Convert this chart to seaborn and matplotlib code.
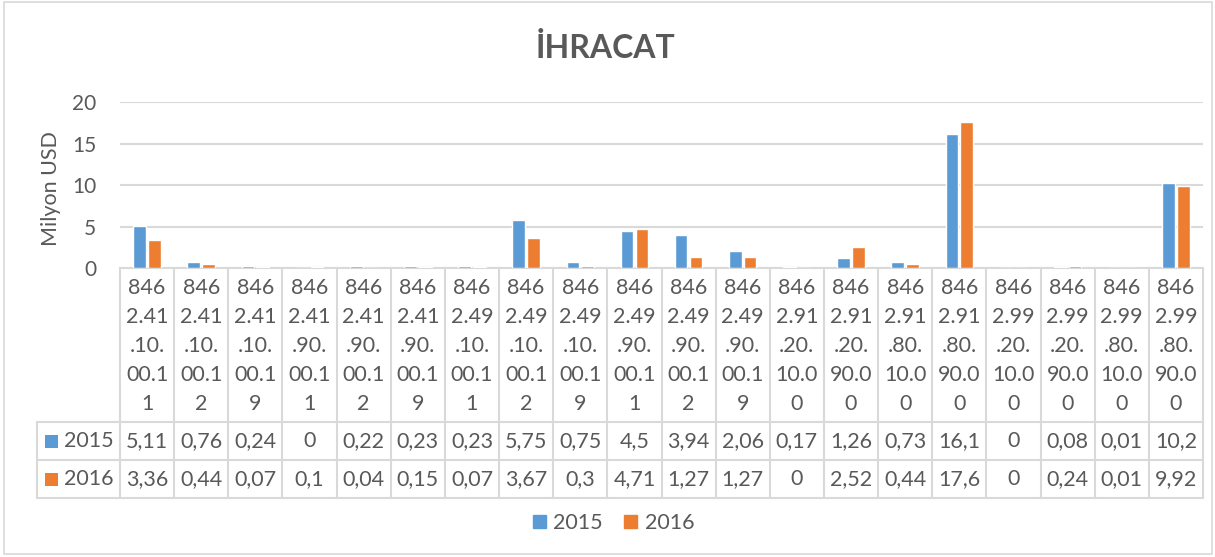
import pandas as pd
import seaborn as sns
import matplotlib.pyplot as plt
from matplotlib.lines import Line2D
from matplotlib.patches import Rectangle
from matplotlib.transforms import blended_transform_factory

codes = ['8462.41.10.00.11', '8462.41.10.00.12', '8462.41.10.00.19',
         '8462.41.90.00.11', '8462.41.90.00.12', '8462.41.90.00.19',
         '8462.49.10.00.11', '8462.49.10.00.12', '8462.49.10.00.19',
         '8462.49.90.00.11', '8462.49.90.00.12', '8462.49.90.00.19',
         '8462.91.20.10.00', '8462.91.20.90.00', '8462.91.80.10.00',
         '8462.91.80.90.00', '8462.99.20.10.00', '8462.99.20.90.00',
         '8462.99.80.10.00', '8462.99.80.90.00']
years = ['2015', '2016']
values_2015 = [5.11, 0.76, 0.24, 0, 0.22, 0.23, 0.23, 5.75, 0.75, 4.5,
               3.94, 2.06, 0.17, 1.26, 0.73, 16.1, 0, 0.08, 0.01, 10.2]
values_2016 = [3.36, 0.44, 0.07, 0.1, 0.04, 0.15, 0.07, 3.67, 0.3, 4.71,
               1.27, 1.27, 0, 2.52, 0.44, 17.6, 0, 0.24, 0.01, 9.92]
colors = ['#5B9BD5', '#ED7D31']

W, H = 1215, 557
GREY = '#595959'
LINE = '#D9D9D9'
FS = 15.5


def fy(y):
    return 1 - y / H


def fmt(v):
    return f'{v:g}'.replace('.', ',')


df = pd.DataFrame({
    'code': codes * 2,
    'year': ['2015'] * len(codes) + ['2016'] * len(codes),
    'value': values_2015 + values_2016,
})

sns.set_style('white')
plt.rcParams['font.family'] = ['Lato', 'DejaVu Sans']
plt.rcParams['text.color'] = GREY

fig = plt.figure(figsize=(W / 100, H / 100), dpi=100)
ax = fig.add_axes([120 / W, fy(268), (1203 - 120) / W, (268 - 102) / H])

sns.barplot(data=df, x='code', y='value', hue='year', palette=colors,
            width=0.55, gap=0.15, saturation=1, errorbar=None, ax=ax)

ax.set_ylim(0, 20)
ax.set_xlim(-0.5, len(codes) - 0.5)
ax.set_yticks([0, 5, 10, 15, 20])
ax.yaxis.grid(True, color=LINE, lw=1.5)
ax.set_axisbelow(True)
ax.tick_params(axis='y', length=0, pad=17, labelsize=15, labelcolor=GREY)
ax.tick_params(axis='x', length=0, labelbottom=False)
ax.set_xlabel('')
ax.set_ylabel('Milyon USD', fontsize=FS, color=GREY)
ax.yaxis.set_label_coords((61 - 120) / 1083, (268 - 189) / 166)
for s in ['left', 'right', 'top']:
    ax.spines[s].set_visible(False)
ax.spines['bottom'].set_color(LINE)
ax.spines['bottom'].set_linewidth(1.5)
ax.spines['bottom'].set_zorder(0)
ax.get_legend().remove()

fig.suptitle('İHRACAT', x=0.498, y=fy(48), va='center',
             fontsize=23, fontweight='bold', color=GREY)

# data table under the plot
tr = blended_transform_factory(ax.transData, fig.transFigure)
for i in range(len(codes) + 1):
    fig.add_artist(Line2D([i - 0.5, i - 0.5], [fy(268), fy(498)],
                          transform=tr, color=LINE, lw=1.5))
for y in [422, 460, 498]:
    fig.add_artist(Line2D([37 / W, 1203 / W], [fy(y), fy(y)],
                          transform=fig.transFigure, color=LINE, lw=1.5))
fig.add_artist(Line2D([37 / W, 37 / W], [fy(422), fy(498)],
                      transform=fig.transFigure, color=LINE, lw=1.5))

line_y = [288, 317, 346, 375, 404]
for i, c in enumerate(codes):
    parts = [c[:3], c[3:7], c[7:11], c[11:15], c[15:]]
    for p, y in zip(parts, line_y):
        fig.text(i, fy(y), p, transform=tr, ha='center', va='center',
                 fontsize=FS, color=GREY)
    fig.text(i, fy(441), fmt(values_2015[i]), transform=tr, ha='center',
             va='center', fontsize=FS, color=GREY)
    fig.text(i, fy(479), fmt(values_2016[i]), transform=tr, ha='center',
             va='center', fontsize=FS, color=GREY)

for yr, col, yc in zip(years, colors, [441, 479]):
    fig.add_artist(Rectangle((45 / W, fy(yc + 6.5)), 13 / W, 13 / H,
                             transform=fig.transFigure, color=col, lw=0))
    fig.text(64 / W, fy(yc), yr, ha='left', va='center',
             fontsize=FS, color=GREY)

handles = [Rectangle((0, 0), 1, 1, color=c) for c in colors]
fig.legend(handles, years, loc='center', bbox_to_anchor=(0.505, fy(523)),
           ncol=2, frameon=False, fontsize=FS, handlelength=0.6,
           handleheight=0.6, handletextpad=0.35, columnspacing=1.0)

fig.add_artist(Rectangle((4 / W, fy(554)), 1208 / W, 552 / H,
                         transform=fig.transFigure, fill=False,
                         edgecolor=LINE, lw=1.2))

fig.savefig('out.png', dpi=100)
